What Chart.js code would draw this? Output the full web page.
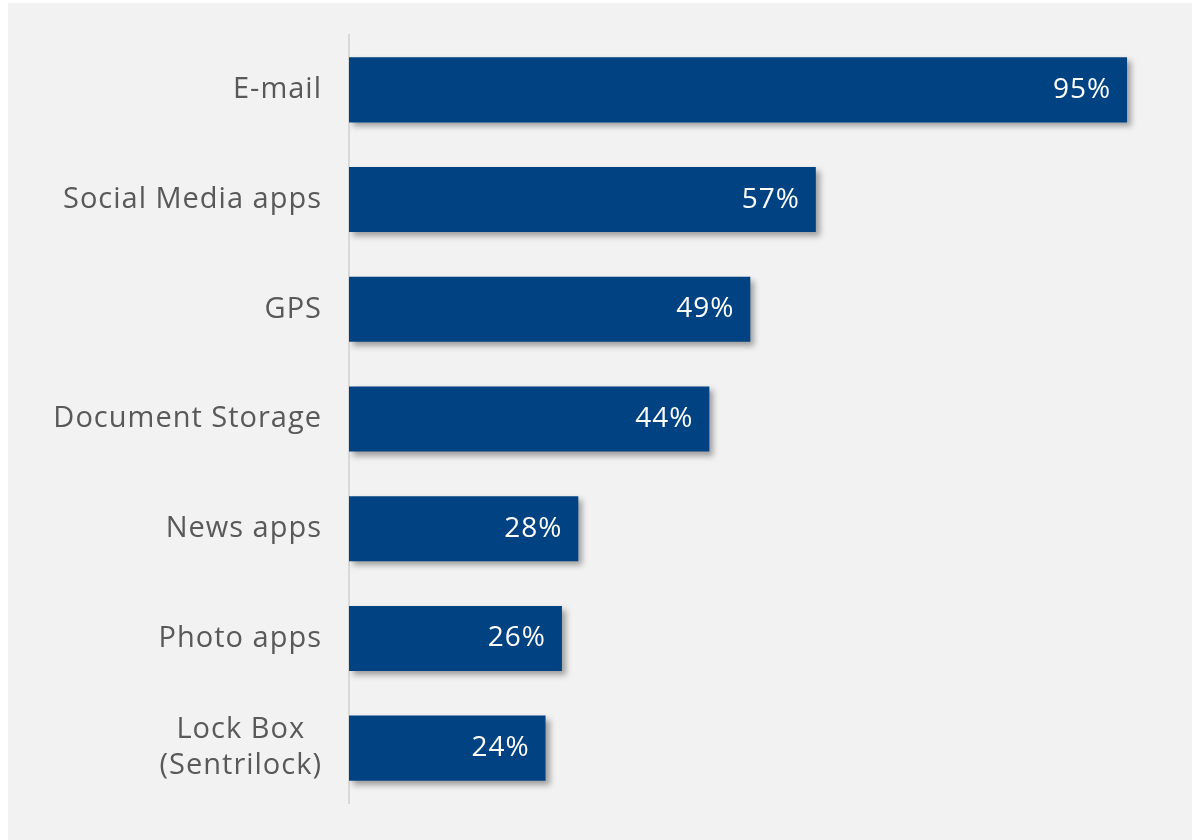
<!DOCTYPE html>
<html>
<head>
<meta charset="utf-8">
<script src="https://cdn.jsdelivr.net/npm/chart.js@4"></script>
<style>
  body { margin: 0; background: #ffffff; }
  #wrap { position: absolute; left: 8px; top: 3px; width: 1184px; height: 837px; background: #f2f2f2; }
</style>
</head>
<body>
<div id="wrap"><canvas id="usageChart" width="1184" height="837"></canvas></div>
<script>
const categories = ['E-mail', 'Social Media apps', 'GPS', 'Document Storage', 'News apps', 'Photo apps', ['Lock Box', '(Sentrilock)']];
const shares = [95, 57, 49, 44, 28, 26, 24];

const labelFont = '400 29px "Open Sans", sans-serif';
const valueFont = '400 28px "Open Sans", sans-serif';

// soft drop shadow under the bars
const barShadow = {
    id: 'barShadow',
    beforeDatasetsDraw(chart) {
        const c = chart.ctx;
        c.save();
        c.shadowColor = 'rgba(0, 0, 0, 0.35)';
        c.shadowOffsetX = 4;
        c.shadowOffsetY = 4;
        c.shadowBlur = 6;
    },
    afterDatasetsDraw(chart) {
        chart.ctx.restore();
    }
};

// percent labels inside the bar ends, category names left of the axis
const textLayer = {
    id: 'textLayer',
    afterDraw(chart) {
        const c = chart.ctx;
        const yScale = chart.scales.y;
        const meta = chart.getDatasetMeta(0);
        c.save();
        c.textBaseline = 'middle';
        c.letterSpacing = '1px';

        c.font = valueFont;
        c.fillStyle = '#ffffff';
        c.textAlign = 'right';
        meta.data.forEach(function(bar, i) {
            c.fillText(shares[i] + '%', bar.x - 16, bar.y);
        });

        c.font = labelFont;
        c.fillStyle = '#595959';
        categories.forEach(function(label, i) {
            const y = yScale.getPixelForValue(i);
            const right = yScale.right - 27;
            if (Array.isArray(label)) {
                const widest = Math.max.apply(null, label.map(function(s) { return c.measureText(s).width; }));
                const mid = right - widest / 2;
                c.textAlign = 'center';
                const lh = 36;
                label.forEach(function(s, k) {
                    c.fillText(s, mid, y + (k - (label.length - 1) / 2) * lh);
                });
            } else {
                c.textAlign = 'right';
                c.fillText(label, right, y);
            }
        });
        c.restore();
    }
};

const ctx = document.getElementById('usageChart').getContext('2d');
const usageChart = new Chart(ctx, {
    type: 'bar',
    data: {
        labels: categories,
        datasets: [{
            data: shares,
            backgroundColor: '#004282',
            borderWidth: 0,
            barPercentage: 0.593,
            categoryPercentage: 1
        }]
    },
    options: {
        indexAxis: 'y',
        responsive: false,
        animation: false,
        layout: { padding: { top: 32, right: 24, bottom: 37, left: 0 } },
        plugins: {
            legend: { display: false },
            tooltip: { enabled: false }
        },
        scales: {
            x: {
                display: false,
                min: 0,
                max: 100
            },
            y: {
                grid: { display: false, drawTicks: false },
                border: { display: true, color: '#d9d9d9', width: 2 },
                ticks: { display: false },
                afterFit(scale) { scale.width = 341; }
            }
        }
    },
    plugins: [barShadow, textLayer]
});
</script>
</body>
</html>
